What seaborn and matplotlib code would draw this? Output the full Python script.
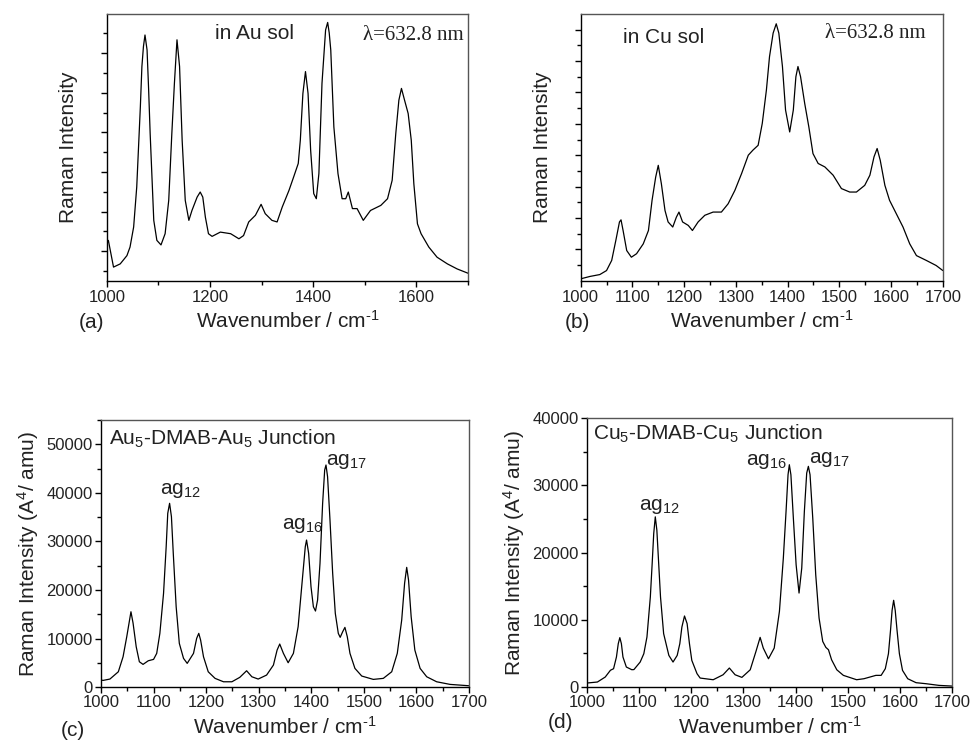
import numpy as np
import pandas as pd
import matplotlib
matplotlib.use("Agg")
import matplotlib.pyplot as plt
import seaborn as sns
from matplotlib.ticker import FixedLocator, MultipleLocator, NullFormatter

# ---------------- data ----------------
# (a) experimental SERS spectrum in Au sol (arbitrary units, 0-100)
wn_a = [1000, 1003, 1013, 1026, 1039, 1045, 1052, 1058, 1065, 1068, 1071, 1074, 1078, 1081, 1084,
        1091, 1097, 1105, 1113, 1120, 1126, 1131, 1136, 1141, 1146, 1152, 1159, 1165, 1175, 1181,
        1186, 1191, 1197, 1204, 1220, 1240, 1256, 1265, 1275, 1288, 1299, 1307, 1320, 1330, 1340,
        1353, 1362, 1371, 1375, 1380, 1385, 1390, 1395, 1401, 1406, 1411, 1417, 1424, 1428, 1431,
        1434, 1440, 1448, 1456, 1463, 1468, 1476, 1485, 1497, 1511, 1531, 1544, 1553, 1560, 1566,
        1571, 1577, 1584, 1590, 1595, 1602, 1609, 1624, 1640, 1660, 1679, 1700]
int_a = [14.0, 15.3, 5.3, 6.5, 9.6, 12.8, 20.3, 35.3, 65.3, 80.4, 87.9, 92.2, 86.6, 72.0, 55.3,
         22.8, 15.3, 13.6, 17.8, 30.3, 55.3, 74.1, 90.4, 80.4, 52.8, 30.3, 22.8, 26.5, 31.5, 33.4,
         31.5, 24.0, 17.8, 16.8, 18.4, 17.8, 15.9, 17.1, 22.2, 24.7, 28.8, 25.3, 22.8, 22.2, 27.8,
         34.0, 39.0, 44.1, 52.8, 70.3, 78.5, 70.3, 49.1, 32.8, 30.9, 40.3, 74.1, 94.1, 96.9, 93.0,
         86.6, 57.8, 40.3, 30.9, 30.9, 33.4, 27.2, 27.2, 22.8, 26.5, 28.4, 30.9, 37.8, 55.3, 67.8,
         72.2, 67.8, 62.8, 52.8, 36.5, 21.5, 17.8, 12.8, 9.0, 6.5, 4.6, 3.0]

# (b) experimental SERS spectrum in Cu sol (arbitrary units, 0-100)
wn_b = [1000, 1018, 1037, 1050, 1060, 1068, 1075, 1078, 1082, 1089, 1098, 1108, 1121, 1131, 1138,
        1145, 1150, 1156, 1163, 1169, 1178, 1185, 1190, 1197, 1208, 1216, 1227, 1240, 1256, 1272,
        1285, 1298, 1311, 1324, 1333, 1343, 1351, 1359, 1365, 1372, 1378, 1383, 1390, 1396, 1404,
        1411, 1416, 1420, 1425, 1433, 1441, 1449, 1459, 1472, 1488, 1504, 1520, 1533, 1549, 1559,
        1567, 1573, 1579, 1588, 1597, 1610, 1623, 1636, 1649, 1668, 1687, 1700]
int_b = [0.9, 1.8, 2.5, 4.0, 7.8, 15.3, 22.2, 23.0, 19.0, 11.5, 9.0, 10.3, 14.0, 19.0, 30.3,
         39.0, 43.4, 36.5, 26.5, 22.2, 20.3, 24.0, 25.9, 22.2, 20.9, 19.0, 22.2, 24.7, 25.9, 25.9,
         29.0, 34.0, 40.3, 47.2, 49.1, 50.9, 59.1, 71.6, 84.1, 92.9, 96.4, 92.9, 80.4, 64.1, 55.9,
         64.1, 76.6, 80.4, 76.6, 66.6, 57.8, 47.8, 44.1, 42.8, 39.7, 34.7, 33.4, 33.4, 35.9, 39.7,
         46.6, 49.7, 45.3, 35.9, 30.3, 25.3, 20.3, 14.0, 9.6, 7.8, 5.9, 4.0]

# (c) calculated Raman spectrum, Au5-DMAB-Au5 junction (A^4/amu)
wn_c = [1000, 1004, 1017, 1033, 1042, 1049, 1057, 1061, 1067, 1073, 1080, 1090, 1100, 1106, 1112,
        1119, 1124, 1127, 1130.5, 1134, 1137.5, 1143, 1149, 1157, 1164, 1176, 1182, 1186, 1189.5, 1195,
        1204, 1217, 1233, 1249, 1264, 1277, 1287, 1299, 1315, 1328, 1335, 1340, 1347, 1356, 1366,
        1375, 1383.5, 1388.6, 1391, 1395, 1399.5, 1404, 1408, 1412, 1416.6, 1421.6, 1425.5, 1428, 1431, 1435.6,
        1440.7, 1445.7, 1451.4, 1455, 1459.7, 1464, 1468.5, 1473.6, 1483, 1496, 1518, 1537, 1553, 1563.6, 1572,
        1577.5, 1581.5, 1585, 1590, 1597, 1607, 1619.6, 1638.5, 1664, 1700]
int_c = [1450, 1370, 1650, 3150, 6240, 10360, 15510, 13180, 8300, 5210, 4670, 5420, 5700, 6940, 11060,
         19300, 28900, 35780, 37840, 35080, 27540, 16540, 9000, 5910, 4880, 6940, 10030, 11060, 9680, 6240,
         3150, 1790, 1090, 1090, 2000, 3360, 2120, 1650, 2470, 4530, 7620, 8860, 6940, 5010, 6940,
         12430, 22730, 28900, 30280, 27540, 20660, 16540, 15660, 17920, 25480, 37840, 44700, 45730, 43320, 34400,
         23420, 15180, 11060, 10240, 11390, 12290, 10370, 6940, 3850, 2270, 1580, 1790, 3150, 6940, 13800,
         21360, 24650, 22040, 14480, 7620, 3850, 2120, 1090, 550, 270]

# (d) calculated Raman spectrum, Cu5-DMAB-Cu5 junction (A^4/amu)
wn_d = [1000, 1020, 1035, 1045, 1051, 1056.5, 1060, 1063, 1066, 1069, 1075.5, 1086, 1090, 1102, 1109,
        1115, 1121.5, 1125, 1128, 1131, 1134, 1137.5, 1141, 1147, 1157, 1165, 1173, 1178, 1182, 1187,
        1192, 1196.5, 1201, 1211, 1217, 1242, 1261, 1273, 1284, 1297, 1313, 1324, 1332, 1338, 1348,
        1359, 1369, 1376.5, 1381.7, 1385.5, 1388, 1391, 1395.7, 1401, 1406.6, 1411.8, 1416.8, 1421.3, 1424.5, 1427.7,
        1432.9, 1438.6, 1445, 1452, 1458, 1463, 1469, 1479, 1491.6, 1517, 1531, 1554, 1564, 1572, 1578,
        1582, 1585, 1588, 1591, 1594.5, 1599, 1605, 1615, 1631, 1650, 1675, 1700]
int_d = [600, 750, 1490, 2500, 2730, 4470, 6450, 7350, 6450, 4470, 2980, 2580, 2600, 3720, 4960,
         7440, 13400, 18360, 22830, 25310, 23330, 18360, 13400, 7940, 4710, 3720, 4710, 6450, 8930, 10570,
         9430, 6450, 3970, 1990, 1340, 1090, 1830, 2830, 1830, 1440, 2570, 5300, 7390, 5800, 4210,
         5800, 11250, 19180, 26120, 31570, 33060, 31570, 25130, 18190, 13980, 17700, 26120, 31820, 32820, 31570,
         25130, 16700, 10260, 6790, 5900, 5550, 4060, 2570, 1740, 1090, 1240, 1740, 1740, 2730, 4960,
         8440, 11410, 12900, 11410, 8440, 4960, 2480, 1240, 650, 500, 250, 150]

panel_labels = ["(a)", "(b)", "(c)", "(d)"]
sol_labels = ["in Au sol", "in Cu sol"]
laser_label = "\u03bb=632.8 nm"
junction_labels = ["Au$_\\mathregular{5}$-DMAB-Au$_\\mathregular{5}$ Junction",
                   "Cu$_\\mathregular{5}$-DMAB-Cu$_\\mathregular{5}$ Junction"]
mode_labels = ["ag$_\\mathregular{12}$", "ag$_\\mathregular{16}$", "ag$_\\mathregular{17}$"]
mode_pos_c = [(1113, 39780), (1344, 32510), (1428, 45750)]
mode_pos_d = [(1100, 26300), (1305, 33000), (1426, 33250)]

xlabel = "Wavenumber / cm$^\\mathregular{\u20101}$"
ylabel_exp = "Raman Intensity"
ylabel_calc = "Raman Intensity (A$^\\mathregular{4}$/ amu)"

# ---------------- style ----------------
sns.set_theme(style="ticks")
plt.rcParams['font.family'] = ['Liberation Sans', 'DejaVu Sans']
plt.rcParams['mathtext.fontset'] = 'custom'
plt.rcParams['mathtext.rm'] = 'Liberation Sans'
plt.rcParams['mathtext.it'] = 'Liberation Sans:italic'
plt.rcParams['mathtext.bf'] = 'Liberation Sans:bold'
plt.rcParams['axes.linewidth'] = 1.0

fig = plt.figure(figsize=(9.71, 7.46), dpi=100)
ax_a = fig.add_axes([0.110, 0.623, 0.372, 0.358])
ax_b = fig.add_axes([0.598, 0.623, 0.373, 0.358])
ax_c = fig.add_axes([0.104, 0.079, 0.379, 0.358])
ax_d = fig.add_axes([0.6045, 0.079, 0.376, 0.3606])

datasets = [(ax_a, wn_a, int_a), (ax_b, wn_b, int_b), (ax_c, wn_c, int_c), (ax_d, wn_d, int_d)]
for ax, wn, inten in datasets:
    df = pd.DataFrame({"wn": wn, "I": inten})
    sns.lineplot(data=df, x="wn", y="I", ax=ax, color="black", linewidth=0.9,
                 estimator=None, sort=True)
    ax.set_xlim(1000, 1700)
    for s in ["top", "right"]:
        ax.spines[s].set_color("#555555")
    for s in ["left", "bottom"]:
        ax.spines[s].set_color("black")
    ax.tick_params(axis="both", which="major", direction="out", length=4, width=1,
                   labelsize=12, color="black", labelcolor="#222222", pad=2)
    ax.tick_params(axis="both", which="minor", direction="out", length=3, width=1, color="black")
    ax.set_xlabel(xlabel, fontsize=15, color="#222222")

# (a)
ax_a.set_ylim(0, 100)
ax_a.xaxis.set_major_locator(MultipleLocator(200))
ax_a.xaxis.set_minor_locator(MultipleLocator(100))
maj_a = [11.26 + 14.82 * k for k in range(6)]
ax_a.yaxis.set_major_locator(FixedLocator(maj_a))
ax_a.yaxis.set_minor_locator(FixedLocator([m - 7.41 for m in maj_a] + [maj_a[-1] + 7.41]))
ax_a.yaxis.set_major_formatter(NullFormatter())
ax_a.set_xticks([1000, 1200, 1400, 1600])
ax_a.set_ylabel(ylabel_exp, fontsize=15, color="#222222", labelpad=14)
ax_a.text(0.30, 0.929, sol_labels[0], transform=ax_a.transAxes, fontsize=15, va="center", color="#222222")
ax_a.text(0.71, 0.922, laser_label, transform=ax_a.transAxes, fontsize=15, va="center",
          family=["Liberation Serif", "DejaVu Serif"], color="#222222")

# (b)
ax_b.set_ylim(0, 100)
ax_b.xaxis.set_major_locator(MultipleLocator(100))
ax_b.xaxis.set_minor_locator(MultipleLocator(50))
maj_b = [11.89 + 11.76 * k for k in range(8)]
ax_b.yaxis.set_major_locator(FixedLocator(maj_b))
ax_b.yaxis.set_minor_locator(FixedLocator([m - 5.88 for m in maj_b]))
ax_b.yaxis.set_major_formatter(NullFormatter())
ax_b.set_ylabel(ylabel_exp, fontsize=15, color="#222222", labelpad=14)
ax_b.text(0.116, 0.912, sol_labels[1], transform=ax_b.transAxes, fontsize=15, va="center", color="#222222")
ax_b.text(0.674, 0.929, laser_label, transform=ax_b.transAxes, fontsize=15, va="center",
          family=["Liberation Serif", "DejaVu Serif"], color="#222222")

# (c)
ax_c.set_ylim(0, 55000)
ax_c.xaxis.set_major_locator(MultipleLocator(100))
ax_c.xaxis.set_minor_locator(MultipleLocator(50))
ax_c.yaxis.set_major_locator(FixedLocator([0, 10000, 20000, 30000, 40000, 50000]))
ax_c.yaxis.set_minor_locator(MultipleLocator(5000))
ax_c.set_ylabel(ylabel_calc, fontsize=15, color="#222222", labelpad=4)
ax_c.text(0.021, 0.931, junction_labels[0], transform=ax_c.transAxes, fontsize=15, va="center", color="#222222")
for lab, (x, y) in zip(mode_labels, mode_pos_c):
    ax_c.text(x, y, lab, fontsize=15, va="baseline", ha="left", color="#222222")

# (d)
ax_d.set_ylim(0, 40000)
ax_d.xaxis.set_major_locator(MultipleLocator(100))
ax_d.xaxis.set_minor_locator(MultipleLocator(50))
ax_d.yaxis.set_major_locator(MultipleLocator(10000))
ax_d.yaxis.set_minor_locator(MultipleLocator(5000))
ax_d.set_ylabel(ylabel_calc, fontsize=15, color="#222222", labelpad=4)
ax_d.text(0.016, 0.943, junction_labels[1], transform=ax_d.transAxes, fontsize=15, va="center", color="#222222")
for lab, (x, y) in zip(mode_labels, mode_pos_d):
    ax_d.text(x, y, lab, fontsize=15, va="baseline", ha="left", color="#222222")

# panel letters
fig.text(91 / 971, 1 - 322 / 746, panel_labels[0], fontsize=15, ha="center", va="center", color="#222222")
fig.text(577 / 971, 1 - 322 / 746, panel_labels[1], fontsize=15, ha="center", va="center", color="#222222")
fig.text(73 / 971, 1 - 730 / 746, panel_labels[2], fontsize=15, ha="center", va="center", color="#222222")
fig.text(560 / 971, 1 - 723 / 746, panel_labels[3], fontsize=15, ha="center", va="center", color="#222222")

fig.savefig("out.png", dpi=100, facecolor="white")
